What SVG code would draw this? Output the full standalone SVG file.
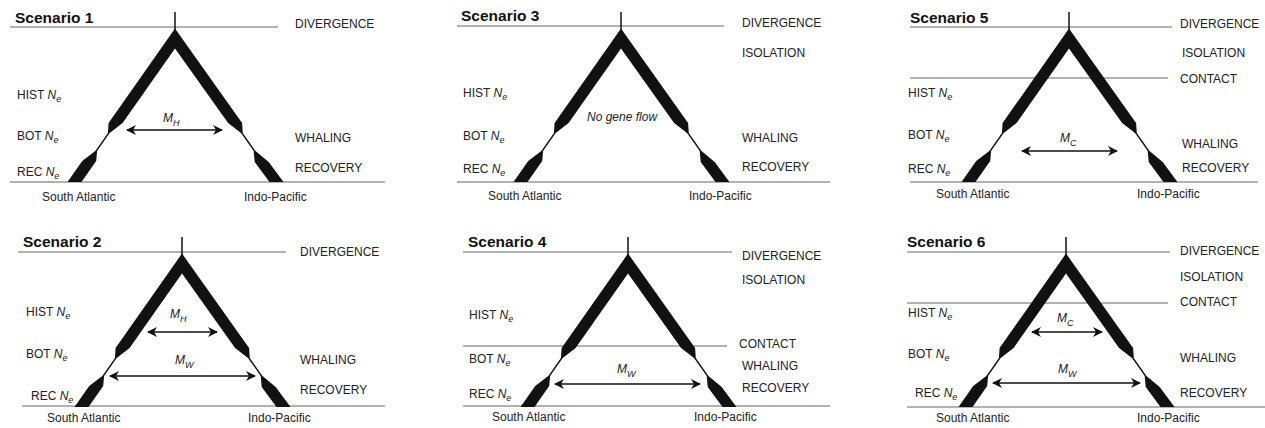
<svg xmlns="http://www.w3.org/2000/svg" xmlns:xlink="http://www.w3.org/1999/xlink" width="1265" height="428" viewBox="0 0 1265 428">
<style>
text{font-family:"Liberation Sans",Arial,sans-serif;font-size:12px;fill:#222}
.title{font-weight:bold;font-size:15.5px;fill:#111}
.it{font-style:italic}
.sub{font-size:9px;font-style:italic}
.hl{stroke:#999;stroke-width:1.3;fill:none}
.arr{stroke:#111;stroke-width:1.4;fill:none;marker-start:url(#ah);marker-end:url(#ah)}
</style>
<defs>
<marker id="ah" viewBox="0 0 10 10" refX="9" refY="5" markerWidth="10" markerHeight="10" markerUnits="userSpaceOnUse" orient="auto-start-reverse">
<path d="M0,0 L10,5 L0,10 L3,5 z" fill="#111"/>
</marker>
<g id="tree">
<line x1="0" y1="-15" x2="0" y2="4" stroke="#111" stroke-width="1.5"/>
<polygon fill="#111" points="0,1.5 -66.4,96 -67.1,106 -79.7,124 -92.8,134 -107.5,155 -93.5,155 -78.8,134 -77.9,124 -65.3,106 -52.4,96 0,21.5"/>
<polygon fill="#111" points="0,1.5 67.1,96 67.8,106 80.5,124 93.7,135 108.5,155 94.5,155 79.7,135 78.7,124 66,106 53.1,96 0,21.5"/>
</g>
</defs>

<g id="scenario1">
<line class="hl" x1="10" y1="27" x2="278" y2="27"/>
<line class="hl" x1="10" y1="182" x2="385" y2="182"/>
<use xlink:href="#tree" x="175" y="27"/>
<text class="title" x="15" y="23">Scenario 1</text>
<text x="295" y="28">DIVERGENCE</text>
<text x="295" y="142">WHALING</text>
<text x="295" y="172">RECOVERY</text>
<text x="17" y="99">HIST <tspan class="it">N</tspan><tspan class="sub" dy="3">e</tspan></text>
<text x="17" y="140">BOT <tspan class="it">N</tspan><tspan class="sub" dy="3">e</tspan></text>
<text x="17" y="176">REC <tspan class="it">N</tspan><tspan class="sub" dy="3">e</tspan></text>
<text x="42" y="201">South Atlantic</text>
<text x="244" y="201">Indo-Pacific</text>
<text class="it" x="163" y="122">M<tspan class="sub" dy="4">H</tspan></text>
</g>

<g id="scenario2">
<line class="hl" x1="18" y1="252" x2="286" y2="252"/>
<line class="hl" x1="22" y1="406" x2="385" y2="406"/>
<use xlink:href="#tree" x="182" y="252"/>
<text class="title" x="23" y="247">Scenario 2</text>
<text x="300" y="256">DIVERGENCE</text>
<text x="300" y="364">WHALING</text>
<text x="300" y="394">RECOVERY</text>
<text x="26" y="316">HIST <tspan class="it">N</tspan><tspan class="sub" dy="3">e</tspan></text>
<text x="26" y="358">BOT <tspan class="it">N</tspan><tspan class="sub" dy="3">e</tspan></text>
<text x="31" y="400">REC <tspan class="it">N</tspan><tspan class="sub" dy="3">e</tspan></text>
<text x="47" y="422">South Atlantic</text>
<text x="248" y="422">Indo-Pacific</text>
<text class="it" x="170" y="318">M<tspan class="sub" dy="4">H</tspan></text>
<text class="it" x="175" y="364">M<tspan class="sub" dy="4">W</tspan></text>
</g>

<g id="scenario3">
<line class="hl" x1="457" y1="26" x2="724" y2="26"/>
<line class="hl" x1="457" y1="182" x2="830" y2="182"/>
<use xlink:href="#tree" x="621" y="27"/>
<text class="title" x="461" y="21">Scenario 3</text>
<text x="742" y="27">DIVERGENCE</text>
<text x="742" y="57">ISOLATION</text>
<text x="742" y="142">WHALING</text>
<text x="742" y="171">RECOVERY</text>
<text x="463" y="97">HIST <tspan class="it">N</tspan><tspan class="sub" dy="3">e</tspan></text>
<text x="463" y="140">BOT <tspan class="it">N</tspan><tspan class="sub" dy="3">e</tspan></text>
<text x="463" y="173">REC <tspan class="it">N</tspan><tspan class="sub" dy="3">e</tspan></text>
<text x="488" y="200">South Atlantic</text>
<text x="689" y="200">Indo-Pacific</text>
<text class="it" x="587" y="121">No gene flow</text>
</g>

<g id="scenario4">
<line class="hl" x1="463" y1="252" x2="732" y2="252"/>
<line class="hl" x1="463" y1="346" x2="727" y2="346"/>
<line class="hl" x1="463" y1="406" x2="830" y2="406"/>
<use xlink:href="#tree" x="628" y="252"/>
<text class="title" x="468" y="247">Scenario 4</text>
<text x="742" y="260">DIVERGENCE</text>
<text x="742" y="284">ISOLATION</text>
<text x="739" y="348">CONTACT</text>
<text x="742" y="370">WHALING</text>
<text x="742" y="392">RECOVERY</text>
<text x="469" y="319">HIST <tspan class="it">N</tspan><tspan class="sub" dy="3">e</tspan></text>
<text x="469" y="363">BOT <tspan class="it">N</tspan><tspan class="sub" dy="3">e</tspan></text>
<text x="469" y="398">REC <tspan class="it">N</tspan><tspan class="sub" dy="3">e</tspan></text>
<text x="492" y="421">South Atlantic</text>
<text x="694" y="421">Indo-Pacific</text>
<text class="it" x="617" y="373">M<tspan class="sub" dy="4">W</tspan></text>
</g>

<g id="scenario5">
<line class="hl" x1="910" y1="27" x2="1172" y2="27"/>
<line class="hl" x1="910" y1="78" x2="1168" y2="78"/>
<line class="hl" x1="910" y1="182" x2="1258" y2="182"/>
<use xlink:href="#tree" x="1069" y="27"/>
<text class="title" x="910" y="23">Scenario 5</text>
<text x="1180" y="28">DIVERGENCE</text>
<text x="1182" y="57">ISOLATION</text>
<text x="1180" y="83">CONTACT</text>
<text x="1182" y="148">WHALING</text>
<text x="1182" y="172">RECOVERY</text>
<text x="908" y="97">HIST <tspan class="it">N</tspan><tspan class="sub" dy="3">e</tspan></text>
<text x="908" y="139">BOT <tspan class="it">N</tspan><tspan class="sub" dy="3">e</tspan></text>
<text x="908" y="173">REC <tspan class="it">N</tspan><tspan class="sub" dy="3">e</tspan></text>
<text x="936" y="198">South Atlantic</text>
<text x="1137" y="198">Indo-Pacific</text>
<text class="it" x="1060" y="142">M<tspan class="sub" dy="4">C</tspan></text>
</g>

<g id="scenario6">
<line class="hl" x1="907" y1="252" x2="1170" y2="252"/>
<line class="hl" x1="907" y1="303" x2="1168" y2="303"/>
<line class="hl" x1="907" y1="407" x2="1265" y2="407"/>
<use xlink:href="#tree" x="1066" y="252"/>
<text class="title" x="907" y="247">Scenario 6</text>
<text x="1180" y="255">DIVERGENCE</text>
<text x="1180" y="281">ISOLATION</text>
<text x="1180" y="306">CONTACT</text>
<text x="1180" y="362">WHALING</text>
<text x="1180" y="397">RECOVERY</text>
<text x="908" y="317">HIST <tspan class="it">N</tspan><tspan class="sub" dy="3">e</tspan></text>
<text x="908" y="358">BOT <tspan class="it">N</tspan><tspan class="sub" dy="3">e</tspan></text>
<text x="915" y="397">REC <tspan class="it">N</tspan><tspan class="sub" dy="3">e</tspan></text>
<text x="936" y="422">South Atlantic</text>
<text x="1137" y="422">Indo-Pacific</text>
<text class="it" x="1057" y="322">M<tspan class="sub" dy="4">C</tspan></text>
<text class="it" x="1058" y="373">M<tspan class="sub" dy="4">W</tspan></text>
</g>

<g id="connectors">
<line class="arr" x1="127" y1="130" x2="222" y2="130"/>
<line class="arr" x1="148" y1="332" x2="217" y2="332"/>
<line class="arr" x1="110" y1="376" x2="255" y2="376"/>
<line class="arr" x1="555" y1="384" x2="700" y2="384"/>
<line class="arr" x1="1022" y1="151" x2="1117" y2="151"/>
<line class="arr" x1="1032" y1="332" x2="1102" y2="332"/>
<line class="arr" x1="993" y1="383" x2="1140" y2="383"/>
</g>
</svg>
